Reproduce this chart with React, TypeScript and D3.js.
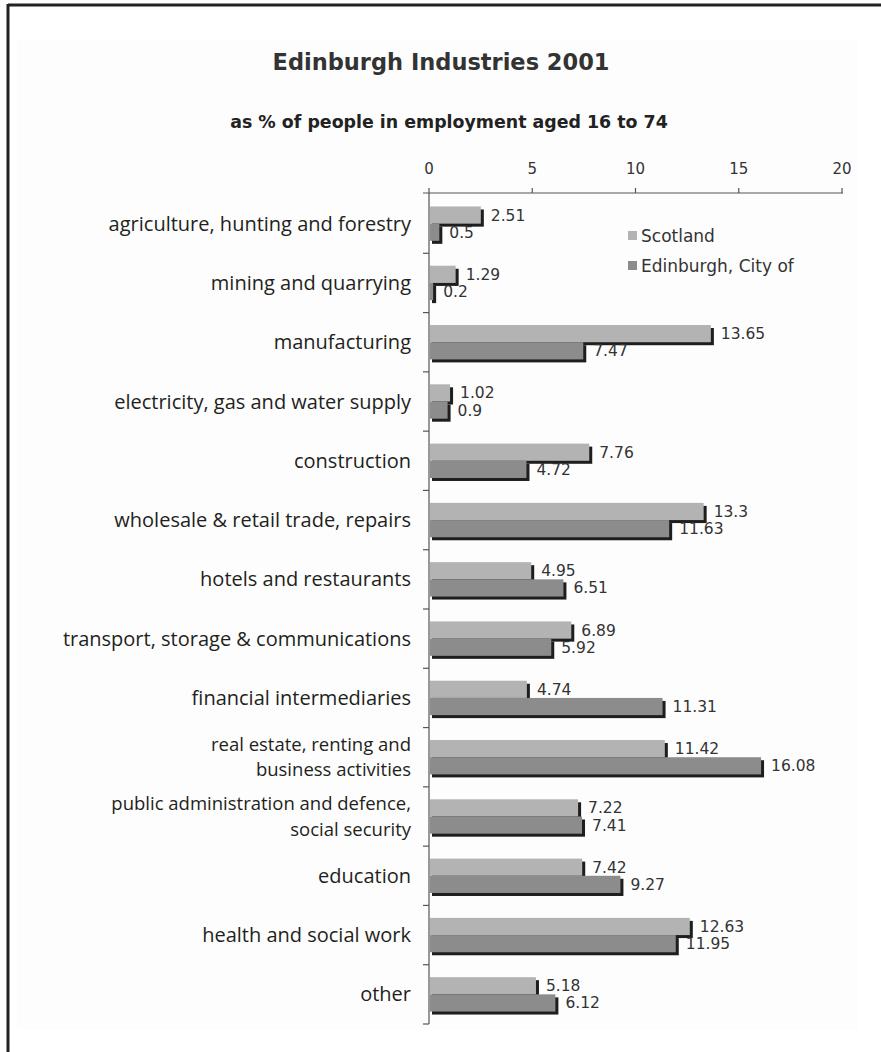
import React from "react";
import * as d3 from "d3";

const categories = [
  "agriculture, hunting and forestry",
  "mining and quarrying",
  "manufacturing",
  "electricity, gas and water supply",
  "construction",
  "wholesale & retail trade, repairs",
  "hotels and restaurants",
  "transport, storage & communications",
  "financial intermediaries",
  "real estate, renting and|business activities",
  "public administration and defence,|social security",
  "education",
  "health and social work",
  "other",
];
const seriesNames = ["Scotland", "Edinburgh, City of"];
const scotland = [2.51, 1.29, 13.65, 1.02, 7.76, 13.3, 4.95, 6.89, 4.74, 11.42, 7.22, 7.42, 12.63, 5.18];
const edinburgh = [0.5, 0.2, 7.47, 0.9, 4.72, 11.63, 6.51, 5.92, 11.31, 16.08, 7.41, 9.27, 11.95, 6.12];
const xTicks = [0, 5, 10, 15, 20];

const colors = ["#b3b3b3", "#8c8c8c"];
const shadow = "#1e1e1e";
const axisColor = "#555";
const sansVerdana = "'DejaVu Sans', Verdana, sans-serif";
const sansLabel = "'Open Sans', 'Noto Sans', sans-serif";

export default function App() {
  const W = 881, H = 1052;
  const x = d3.scaleLinear().domain([0, 20]).range([429, 842]);
  const y = d3.scaleBand<string>().domain(categories).range([194, 1024]).paddingInner(0.42).paddingOuter(0.21);
  const ys = d3.scaleBand<string>().domain(seriesNames).range([0, y.bandwidth()]);
  const step = y.step();
  const axisY = 193;
  const data = [scotland, edinburgh];

  return (
    <svg width={W} height={H} style={{ position: "absolute", left: 0, top: 0 }}>
      <rect x={0} y={0} width={W} height={H} fill="#fff" />
      <rect x={17} y={40} width={841} height={990} fill="#fdfdfd" />
      {/* frame */}
      <line x1={8} y1={5} x2={W} y2={5} stroke="#222" strokeWidth={3} />
      <line x1={8} y1={4} x2={8} y2={H} stroke="#222" strokeWidth={3} />

      <text x={441} y={70} textAnchor="middle" fontFamily={sansVerdana} fontWeight="bold" fontSize={22.5} fill="#333">
        Edinburgh Industries 2001
      </text>
      <text x={449} y={128} textAnchor="middle" fontFamily={sansVerdana} fontWeight="bold" fontSize={17.4} fill="#222">
        as % of people in employment aged 16 to 74
      </text>

      {/* x axis */}
      <line x1={423} y1={axisY} x2={843} y2={axisY} stroke={axisColor} strokeWidth={1.2} />
      {xTicks.map((t) => (
        <g key={t}>
          <line x1={x(t)} y1={axisY - 5} x2={x(t)} y2={axisY} stroke={axisColor} strokeWidth={1.2} />
          <text x={x(t)} y={174} textAnchor="middle" fontFamily={sansVerdana} fontSize={15} fill="#333">
            {t}
          </text>
        </g>
      ))}

      {/* y axis */}
      <line x1={429} y1={axisY} x2={429} y2={1024} stroke={axisColor} strokeWidth={1.2} />
      {categories.map((c, i) => (
        <line key={c} x1={423} y1={194 + (i + 1) * step} x2={429} y2={194 + (i + 1) * step} stroke={axisColor} strokeWidth={1.2} />
      ))}

      {/* category labels */}
      {categories.map((c) => {
        const lines = c.split("|");
        const cy = (y(c) as number) + y.bandwidth() / 2;
        const multi = lines.length > 1;
        const fs = multi ? 18.5 : 20;
        const lh = 25.4;
        return (
          <g key={c}>
            {lines.map((l, j) => (
              <text key={j} x={411} y={cy + fs * 0.35 + (j - (lines.length - 1) / 2) * lh} textAnchor="end" fontFamily={sansLabel} fontSize={fs} fill="#231f20">
                {l}
              </text>
            ))}
          </g>
        );
      })}

      {/* bars */}
      {categories.map((c, i) => (
        <g key={c} transform={`translate(0,${y(c)})`}>
          {seriesNames.map((s, k) => {
            const v = data[k][i];
            const by = ys(s) as number;
            const bh = ys.bandwidth();
            return (
              <g key={s}>
                <rect x={x(0) + 3} y={by + 3} width={x(v) - x(0)} height={bh} fill={shadow} />
                <rect x={x(0) + 1} y={by} width={x(v) - x(0) - 1} height={bh} fill={colors[k]} />
              </g>
            );
          })}
          {seriesNames.map((s, k) => {
            const v = data[k][i];
            const by = ys(s) as number;
            const bh = ys.bandwidth();
            return (
              <text key={s} x={x(v) + 10} y={by + bh / 2 + 5.5} fontFamily={sansVerdana} fontSize={15.5} fill="#333">
                {v}
              </text>
            );
          })}
        </g>
      ))}

      {/* legend */}
      {seriesNames.map((s, k) => (
        <g key={s} transform={`translate(628,${231 + k * 30})`}>
          <rect x={0} y={0} width={9} height={9} fill={colors[k]} />
          <text x={13} y={11} fontFamily={sansVerdana} fontSize={17} fill="#333">
            {s}
          </text>
        </g>
      ))}
    </svg>
  );
}
